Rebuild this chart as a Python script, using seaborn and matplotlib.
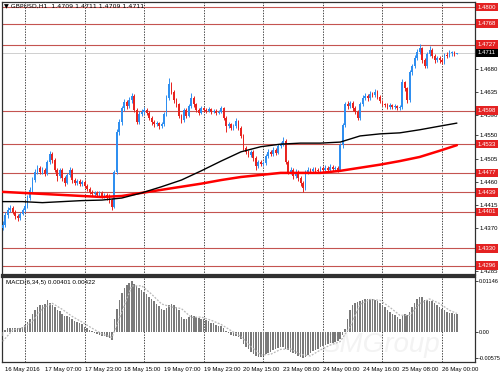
import matplotlib
matplotlib.use('Agg')
import matplotlib.pyplot as plt
import matplotlib.transforms as mtransforms
import seaborn as sns
import pandas as pd

sns.set_theme(style='white')
plt.rcParams['font.family'] = ['Liberation Sans', 'DejaVu Sans']

# ---------------- data ----------------
first_open = 1.4370
closes = [
    1.4376, 1.4395, 1.4405, 1.4409, 1.4401, 1.4393, 1.4389, 1.4397, 1.4405, 1.4413,
    1.4428, 1.4444, 1.4463, 1.4479, 1.4487, 1.4479, 1.4483, 1.4475, 1.4498, 1.4514,
    1.4502, 1.4483, 1.4471, 1.4483, 1.4467, 1.4458, 1.4473, 1.4483, 1.4463, 1.4458,
    1.4461, 1.4456, 1.4460, 1.4452, 1.4446, 1.4440, 1.4436, 1.4438, 1.4434, 1.4438,
    1.4432, 1.4434, 1.4428, 1.4424, 1.4411, 1.4479, 1.4557, 1.4576, 1.4603, 1.4615,
    1.4607, 1.4619, 1.4627, 1.4600, 1.4576, 1.4592, 1.4596, 1.4600, 1.4594, 1.4584,
    1.4576, 1.4572, 1.4574, 1.4568, 1.4572, 1.4592, 1.4623, 1.4650, 1.4635, 1.4619,
    1.4611, 1.4588, 1.4580, 1.4600, 1.4588, 1.4607, 1.4623, 1.4611, 1.4600, 1.4594,
    1.4603, 1.4600, 1.4598, 1.4601, 1.4596, 1.4598, 1.4594, 1.4596, 1.4603, 1.4584,
    1.4568, 1.4572, 1.4565, 1.4568, 1.4578, 1.4565, 1.4549, 1.4526, 1.4518, 1.4512,
    1.4518, 1.4506, 1.4491, 1.4498, 1.4495, 1.4496, 1.4510, 1.4518, 1.4514, 1.4522,
    1.4516, 1.4529, 1.4533, 1.4539, 1.4498, 1.4479, 1.4483, 1.4471, 1.4479, 1.4467,
    1.4458, 1.4448, 1.4479, 1.4483, 1.4481, 1.4485, 1.4483, 1.4481, 1.4487, 1.4483,
    1.4487, 1.4483, 1.4489, 1.4485, 1.4487, 1.4483, 1.4531, 1.4570, 1.4611, 1.4607,
    1.4613, 1.4603, 1.4596, 1.4584, 1.4611, 1.4623, 1.4627, 1.4623, 1.4631, 1.4629,
    1.4635, 1.4625, 1.4617, 1.4611, 1.4609, 1.4605, 1.4609, 1.4605, 1.4607, 1.4603,
    1.4605, 1.4654, 1.4642, 1.4619, 1.4673, 1.4685, 1.4701, 1.4713, 1.4720, 1.4697,
    1.4685, 1.4709, 1.4716, 1.4705, 1.4697, 1.4701, 1.4697, 1.4693, 1.4707, 1.4705,
    1.4711, 1.4711, 1.4709, 1.4711]
highs = [
    1.4384, 1.4400, 1.4410, 1.4414, 1.4413, 1.4404, 1.4397, 1.4401, 1.4409, 1.4418,
    1.4433, 1.4450, 1.4469, 1.4485, 1.4493, 1.4491, 1.4488, 1.4487, 1.4503, 1.4520,
    1.4517, 1.4506, 1.4487, 1.4487, 1.4486, 1.4471, 1.4477, 1.4489, 1.4486, 1.4467,
    1.4466, 1.4465, 1.4464, 1.4463, 1.4455, 1.4450, 1.4444, 1.4442, 1.4441, 1.4442,
    1.4441, 1.4438, 1.4437, 1.4436, 1.4428, 1.4483, 1.4562, 1.4582, 1.4608, 1.4621,
    1.4619, 1.4624, 1.4633, 1.4630, 1.4604, 1.4597, 1.4601, 1.4605, 1.4604, 1.4598,
    1.4588, 1.4580, 1.4578, 1.4577, 1.4576, 1.4596, 1.4628, 1.4662, 1.4655, 1.4639,
    1.4623, 1.4614, 1.4592, 1.4604, 1.4603, 1.4611, 1.4633, 1.4627, 1.4614, 1.4603,
    1.4607, 1.4606, 1.4604, 1.4605, 1.4604, 1.4602, 1.4601, 1.4600, 1.4608, 1.4606,
    1.4588, 1.4577, 1.4575, 1.4573, 1.4584, 1.4581, 1.4568, 1.4552, 1.4530, 1.4522,
    1.4522, 1.4521, 1.4509, 1.4502, 1.4502, 1.4500, 1.4514, 1.4523, 1.4522, 1.4527,
    1.4526, 1.4533, 1.4538, 1.4547, 1.4543, 1.4502, 1.4488, 1.4487, 1.4484, 1.4482,
    1.4470, 1.4461, 1.4483, 1.4488, 1.4487, 1.4489, 1.4489, 1.4487, 1.4491, 1.4490,
    1.4492, 1.4491, 1.4494, 1.4492, 1.4491, 1.4490, 1.4536, 1.4575, 1.4616, 1.4617,
    1.4618, 1.4617, 1.4607, 1.4599, 1.4615, 1.4628, 1.4633, 1.4631, 1.4636, 1.4635,
    1.4640, 1.4638, 1.4628, 1.4620, 1.4614, 1.4613, 1.4613, 1.4612, 1.4611, 1.4610,
    1.4609, 1.4659, 1.4657, 1.4645, 1.4677, 1.4690, 1.4706, 1.4718, 1.4728, 1.4723,
    1.4700, 1.4713, 1.4724, 1.4720, 1.4709, 1.4705, 1.4704, 1.4700, 1.4711, 1.4712,
    1.4716, 1.4715, 1.4714, 1.4711]
lows = [
    1.4366, 1.4372, 1.4390, 1.4400, 1.4396, 1.4388, 1.4383, 1.4385, 1.4394, 1.4401,
    1.4409, 1.4424, 1.4440, 1.4459, 1.4474, 1.4474, 1.4475, 1.4470, 1.4472, 1.4494,
    1.4497, 1.4478, 1.4462, 1.4467, 1.4462, 1.4452, 1.4455, 1.4469, 1.4458, 1.4453,
    1.4454, 1.4451, 1.4452, 1.4447, 1.4441, 1.4436, 1.4432, 1.4432, 1.4430, 1.4430,
    1.4428, 1.4428, 1.4424, 1.4418, 1.4405, 1.4408, 1.4475, 1.4550, 1.4571, 1.4598,
    1.4601, 1.4603, 1.4614, 1.4595, 1.4572, 1.4573, 1.4588, 1.4591, 1.4590, 1.4580,
    1.4571, 1.4567, 1.4568, 1.4563, 1.4564, 1.4569, 1.4588, 1.4619, 1.4630, 1.4614,
    1.4606, 1.4583, 1.4575, 1.4577, 1.4584, 1.4585, 1.4603, 1.4606, 1.4596, 1.4589,
    1.4591, 1.4596, 1.4594, 1.4595, 1.4592, 1.4593, 1.4590, 1.4591, 1.4593, 1.4580,
    1.4556, 1.4564, 1.4561, 1.4561, 1.4564, 1.4561, 1.4545, 1.4521, 1.4513, 1.4507,
    1.4508, 1.4501, 1.4483, 1.4487, 1.4490, 1.4491, 1.4493, 1.4506, 1.4510, 1.4510,
    1.4512, 1.4513, 1.4525, 1.4529, 1.4494, 1.4474, 1.4475, 1.4466, 1.4467, 1.4462,
    1.4452, 1.4440, 1.4444, 1.4475, 1.4477, 1.4477, 1.4479, 1.4477, 1.4478, 1.4479,
    1.4480, 1.4479, 1.4480, 1.4481, 1.4481, 1.4479, 1.4480, 1.4526, 1.4566, 1.4602,
    1.4603, 1.4598, 1.4591, 1.4580, 1.4581, 1.4607, 1.4619, 1.4618, 1.4619, 1.4625,
    1.4625, 1.4621, 1.4613, 1.4607, 1.4605, 1.4601, 1.4601, 1.4601, 1.4602, 1.4599,
    1.4600, 1.4601, 1.4637, 1.4614, 1.4616, 1.4668, 1.4681, 1.4697, 1.4709, 1.4692,
    1.4681, 1.4682, 1.4705, 1.4700, 1.4692, 1.4693, 1.4692, 1.4689, 1.4690, 1.4701,
    1.4702, 1.4705, 1.4705, 1.4709]

ma_bars = [0, 8, 16, 24, 32, 40, 48, 56, 64, 72, 80, 88, 96, 104, 112, 120,
           128, 136, 144, 152, 160, 168, 176, 183]
ma_black = [1.4421, 1.4421, 1.4419, 1.4421, 1.4423, 1.4424, 1.4428, 1.4438,
            1.4450, 1.4463, 1.4481, 1.4500, 1.4518, 1.4528, 1.4533, 1.4535,
            1.4535, 1.4537, 1.4549, 1.4553, 1.4555, 1.4561, 1.4568, 1.4574]
ma_red = [1.4440, 1.4438, 1.4436, 1.4434, 1.4432, 1.4430, 1.4432, 1.4438,
          1.4444, 1.4450, 1.4456, 1.4463, 1.4469, 1.4473, 1.4477, 1.4477,
          1.4477, 1.4481, 1.4487, 1.4493, 1.4500, 1.4508, 1.4520, 1.4531]

macd_hist = [
    -0.00080, 0.00050, 0.00090, 0.00100, 0.00100, 0.00100, 0.00090, 0.00100, 0.00130, 0.00170,
    0.00230, 0.00300, 0.00400, 0.00500, 0.00570, 0.00600, 0.00600, 0.00640, 0.00720, 0.00660,
    0.00620, 0.00560, 0.00500, 0.00470, 0.00420, 0.00370, 0.00360, 0.00340, 0.00290, 0.00250,
    0.00230, 0.00200, 0.00180, 0.00130, 0.00090, 0.00050, 0.00020, -0.00020, -0.00040, -0.00060,
    -0.00070, -0.00090, -0.00100, -0.00130, -0.00180, 0.00290, 0.00530, 0.00730, 0.00880, 0.01000,
    0.01060, 0.01100, 0.01146, 0.01090, 0.01030, 0.00990, 0.00950, 0.00910, 0.00860, 0.00800,
    0.00740, 0.00690, 0.00640, 0.00580, 0.00520, 0.00500, 0.00550, 0.00620, 0.00640, 0.00610,
    0.00570, 0.00490, 0.00350, 0.00300, 0.00290, 0.00350, 0.00380, 0.00370, 0.00340, 0.00320,
    0.00300, 0.00300, 0.00280, 0.00250, 0.00220, 0.00200, 0.00170, 0.00150, 0.00150, 0.00100,
    0.00020, -0.00020, -0.00050, -0.00080, -0.00080, -0.00100, -0.00150, -0.00250, -0.00330, -0.00380,
    -0.00430, -0.00480, -0.00520, -0.00540, -0.00550, -0.00520, -0.00490, -0.00450, -0.00430, -0.00400,
    -0.00380, -0.00350, -0.00330, -0.00320, -0.00360, -0.00400, -0.00430, -0.00460, -0.00490, -0.00520,
    -0.00550, -0.00575, -0.00540, -0.00500, -0.00460, -0.00420, -0.00390, -0.00360, -0.00330, -0.00300,
    -0.00280, -0.00260, -0.00240, -0.00230, -0.00210, -0.00190, -0.00150, -0.00060, 0.00070, 0.00290,
    0.00500, 0.00600, 0.00650, 0.00680, 0.00700, 0.00730, 0.00740, 0.00750, 0.00750, 0.00740,
    0.00730, 0.00700, 0.00660, 0.00610, 0.00560, 0.00510, 0.00460, 0.00420, 0.00380, 0.00350,
    0.00300, 0.00360, 0.00400, 0.00380, 0.00460, 0.00560, 0.00660, 0.00740, 0.00790, 0.00780,
    0.00730, 0.00720, 0.00710, 0.00690, 0.00650, 0.00610, 0.00560, 0.00520, 0.00490, 0.00460,
    0.00440, 0.00430, 0.00410, 0.00401]

signal_bars = list(range(0, 181, 4)) + [183]
signal_vals = [-0.00200, 0.00052, 0.00104, 0.00246, 0.00534, 0.00648, 0.00514, 0.00356,
               0.00230, 0.00094, -0.00034, -0.00114, 0.00450, 0.01036, 0.01040, 0.00852,
               0.00634, 0.00566, 0.00532, 0.00334, 0.00342, 0.00270, 0.00178, 0.00040,
               -0.00092, -0.00308, -0.00504, -0.00488, -0.00378, -0.00368, -0.00490, -0.00525,
               -0.00392, -0.00282, -0.00204, 0.00130, 0.00626, 0.00734, 0.00716, 0.00560,
               0.00382, 0.00380, 0.00642, 0.00746, 0.00644, 0.00494, 0.00422]

levels = [1.4800, 1.4768, 1.4727, 1.4598, 1.4533, 1.4477, 1.4439, 1.4401, 1.4330, 1.4296]
current_price = 1.4711
price_ticks = [1.4680, 1.4635, 1.4590, 1.4550, 1.4505, 1.4460, 1.4415, 1.4370, 1.4285]
macd_ticks = [0.01146, 0.0, -0.00575]
macd_tick_labels = ['0.01146', '0.00', '-0.00575']
time_labels = ['16 May 2016', '17 May 07:00', '17 May 23:00', '18 May 15:00',
               '19 May 07:00', '19 May 23:00', '20 May 15:00', '23 May 08:00',
               '24 May 00:00', '24 May 16:00', '25 May 08:00', '26 May 00:00']
time_label_bars = [1, 17, 33, 49, 65, 81, 97, 113, 129, 145, 161, 177]
grid_bars = [9, 33, 57, 81, 105, 129, 153, 177]
title_text = '\u25bc GBPUSD,H1  1.4709 1.4711 1.4709 1.4711'
macd_title = 'MACD(6,34,5) 0.00401 0.00422'
watermark = 'SMGroup'

assert len(closes) == len(highs) == len(lows) == len(macd_hist) == 184, (
    len(closes), len(highs), len(lows), len(macd_hist))
assert len(signal_bars) == len(signal_vals)

n = len(closes)
bars = list(range(n))
opens = [first_open] + closes[:-1]
df = pd.DataFrame({'bar': bars, 'open': opens, 'high': highs, 'low': lows,
                   'close': closes, 'hist': macd_hist})
up_col = '#2f8ff0'
dn_col = '#e8231e'
df['col'] = [up_col if c >= o else dn_col for o, c in zip(df['open'], df['close'])]
df['body_lo'] = df[['open', 'close']].min(axis=1)
df['body_h'] = (df['close'] - df['open']).abs().clip(lower=0.00006)

# ---------------- figure ----------------
W, H = 500, 375
fig = plt.figure(figsize=(W / 100, H / 100), dpi=100)
fig.patch.set_facecolor('white')
ax = fig.add_axes([2 / W, 1 - 275 / H, 473 / W, 273 / H])
ax2 = fig.add_axes([2 / W, 1 - 362 / H, 473 / W, 85 / H])

xlim = (-0.27, 190.3)
for a in (ax, ax2):
    a.set_facecolor('white')
    a.set_xlim(*xlim)
    for s in a.spines.values():
        s.set_color('#303030')
        s.set_linewidth(0.9)
    for b in grid_bars:
        a.axvline(b, color='#222222', lw=0.6, ls=(0, (1.6, 1.6)), zorder=1)

ax.spines['bottom'].set_linewidth(1.6)
ax2.spines['top'].set_linewidth(1.6)

# main panel
ax.set_ylim(1.4278, 1.4810)
for lvl in levels:
    ax.axhline(lvl, color='#c45450', lw=0.8, zorder=2)
ax.axhline(current_price, color='#c8c8c8', lw=0.6, zorder=2)

ax.vlines(df['bar'], df['low'], df['high'], colors=df['col'], lw=0.7, zorder=3)
ax.bar(df['bar'], df['body_h'], bottom=df['body_lo'], width=0.7,
       color=df['col'], linewidth=0, zorder=3)

sns.lineplot(x=ma_bars, y=ma_red, ax=ax, color='#ff0000', lw=1.8, zorder=4)
sns.lineplot(x=ma_bars, y=ma_black, ax=ax, color='black', lw=1.0, zorder=4)

ax.yaxis.tick_right()
ax.set_yticks(price_ticks)
ax.set_yticklabels([f'{t:.4f}' for t in price_ticks])
ax.tick_params(axis='y', labelsize=4.3, length=2, width=0.5, pad=1.5, colors='black')
ax.set_xticks([])
ax.set_xlabel('')
ax.set_ylabel('')

trans = mtransforms.blended_transform_factory(ax.transAxes, ax.transData)
for lvl in levels:
    ax.text(1.006, lvl, f'{lvl:.4f}', transform=trans, fontsize=4.3, color='white',
            va='center', ha='left', clip_on=False, zorder=6,
            bbox=dict(boxstyle='square,pad=0.3', fc='#e42222', ec='none'))
ax.text(1.006, current_price, f'{current_price:.4f}', transform=trans, fontsize=4.3,
        color='white', va='center', ha='left', clip_on=False, zorder=6,
        bbox=dict(boxstyle='square,pad=0.3', fc='black', ec='none'))

ax.text(0.005, 0.985, title_text, transform=ax.transAxes, fontsize=4.5,
        va='center', ha='left', color='black', family=['DejaVu Sans'])

# MACD panel
ax2.set_ylim(-0.0066, 0.01235)
ax2.text(0.80, 0.2, watermark, transform=ax2.transAxes, fontsize=20,
         color='#f3f3f3', ha='center', va='center', style='italic', zorder=0.5)
ax2.bar(df['bar'], df['hist'], width=0.62, color='#7a7a7a', linewidth=0, zorder=3)
sns.lineplot(x=signal_bars, y=signal_vals, ax=ax2, color='#b8b8b8', lw=0.9,
             linestyle=(0, (1.5, 1.2)), zorder=4)
ax2.yaxis.tick_right()
ax2.set_yticks(macd_ticks)
ax2.set_yticklabels(macd_tick_labels)
ax2.tick_params(axis='y', labelsize=4.0, length=2, width=0.5, pad=1.0, colors='black')
ax2.set_xticks(time_label_bars)
ax2.set_xticklabels(time_labels, ha='left')
ax2.tick_params(axis='x', labelsize=4.3, length=2, width=0.5, pad=1.5, colors='black',
                direction='out')
ax2.set_xlabel('')
ax2.set_ylabel('')
ax2.text(0.008, 0.93, macd_title, transform=ax2.transAxes, fontsize=4.5,
         va='center', ha='left', color='black', zorder=6)

fig.savefig('out.png', dpi=100, facecolor='white')
